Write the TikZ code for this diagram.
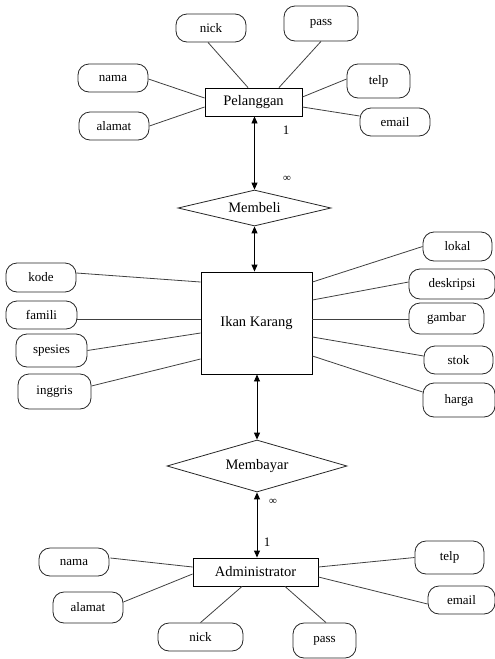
\documentclass[tikz,border=0pt]{standalone}
\usepackage{fontspec}
\setmainfont{Liberation Serif}
\usetikzlibrary{shapes.geometric,arrows.meta,calc}
\tikzset{
  attr/.style={draw=black!85, rounded corners=11pt, inner sep=0pt, line width=0.8pt,
    font=\fontsize{13}{15}\selectfont},
  ent/.style={draw=black, rectangle, inner sep=0pt, line width=0.9pt,
    font=\fontsize{14.5}{17}\selectfont},
  rel/.style={draw=black!85, diamond, inner sep=0pt, line width=0.8pt,
    font=\fontsize{14.5}{17}\selectfont},
  conn/.style={draw=black!75, line width=0.8pt},
  arr/.style={draw=black, line width=0.9pt,
    {Triangle[length=7pt,width=6pt]}-{Triangle[length=7pt,width=6pt]}},
  card/.style={inner sep=0pt, font=\fontsize{13}{15}\selectfont},
}
\begin{document}
\begin{tikzpicture}[x=1pt,y=-1pt]
\useasboundingbox (0,0) rectangle (495,659);
% --- Pelanggan
\node[ent, minimum width=97pt, minimum height=28pt] (pel) at (253.5,102) {Pelanggan};
\node[attr, minimum width=70pt, minimum height=28pt] (pnick) at (211,28) {nick};
\node[attr, minimum width=74pt, minimum height=35pt] (ppass) at (321,23.5) {pass};
\node[attr, minimum width=70pt, minimum height=28pt] (pnama) at (113,78) {nama};
\node[attr, minimum width=70pt, minimum height=28pt] (palamat) at (114,126) {alamat};
\node[attr, minimum width=63pt, minimum height=34pt] (ptelp) at (378.5,81) {telp};
\node[attr, minimum width=70pt, minimum height=28pt] (pemail) at (395,122) {email};
\draw[conn] ($(pnick.south)+(-3,0)$) -- ($(pel.north)+(-5.5,0)$);
\draw[conn] (ppass.south) -- ($(pel.north)+(25.5,0)$);
\draw[conn] ($(pnama.east)+(0,1)$) -- ($(pel.west)+(0,-4)$);
\draw[conn] (palamat.east) -- ($(pel.west)+(0,5)$);
\draw[conn] ($(ptelp.west)+(0,-2)$) -- ($(pel.east)+(0,-5)$);
\draw[conn] ($(pemail.west)+(0,-6)$) -- ($(pel.east)+(0,5)$);
% --- Membeli
\node[rel, aspect=4.25, minimum width=153pt, minimum height=36pt] (mbeli) at (254.5,208) {Membeli};
\draw[arr] (mbeli.north |- pel.south) -- (mbeli.north);
\node[card] (c1a) at (286,130) {1};
\node[card, font=\fontsize{11}{13}\selectfont] (c1b) at (287,179) {∞};
% --- Ikan Karang
\node[ent, minimum width=111pt, minimum height=102pt] (ikan) at (256.5,323) {Ikan Karang};
\draw[arr] (mbeli.south) -- (mbeli.south |- ikan.north);
\node[attr, minimum width=70pt, minimum height=29pt] (kode) at (41,277.5) {kode};
\node[attr, minimum width=71pt, minimum height=28pt] (famili) at (41.5,315) {famili};
\node[attr, minimum width=71pt, minimum height=33pt] (spesies) at (51.5,350.5) {spesies};
\node[attr, minimum width=73pt, minimum height=35pt] (inggris) at (54.5,391.5) {inggris};
\node[attr, minimum width=69pt, minimum height=29pt] (lokal) at (457.5,246.5) {lokal};
\node[attr, minimum width=86pt, minimum height=30pt] (deskripsi) at (452,284) {deskripsi};
\node[attr, minimum width=75pt, minimum height=31pt] (gambar) at (446.5,318.5) {gambar};
\node[attr, minimum width=69pt, minimum height=28pt] (stok) at (458.5,360) {stok};
\node[attr, minimum width=72pt, minimum height=34pt] (harga) at (459,400) {harga};
\draw[conn] ($(kode.east)+(0,-4.5)$) -- ($(ikan.west)+(0,-41)$);
\draw[conn] ($(famili.east)+(0,4)$) -- ($(ikan.west)+(0,-4)$);
\draw[conn] (spesies.east) -- ($(ikan.west)+(0,10)$);
\draw[conn] ($(inggris.east)+(0,-5.5)$) -- ($(ikan.west)+(0,36)$);
\draw[conn] (lokal.west) -- ($(ikan.east)+(0,-41)$);
\draw[conn] ($(deskripsi.west)+(0,-2)$) -- ($(ikan.east)+(0,-23)$);
\draw[conn] ($(gambar.west)+(0,0.5)$) -- ($(ikan.east)+(0,-4)$);
\draw[conn] ($(stok.west)+(0,-4)$) -- ($(ikan.east)+(0,14)$);
\draw[conn] ($(harga.west)+(0,-8)$) -- ($(ikan.east)+(0,33)$);
% --- Membayar
\node[rel, aspect=3.46, minimum width=180pt, minimum height=52pt] (mbayar) at (257,466) {Membayar};
\draw[arr] (ikan.south -| mbayar.north) -- (mbayar.north);
% --- Administrator
\node[ent, minimum width=125pt, minimum height=28pt] (adm) at (255.5,572) {Administrator};
\draw[arr] (mbayar.south) -- (mbayar.south |- adm.north);
\node[card, font=\fontsize{11}{13}\selectfont] (c2a) at (273,502) {∞};
\node[card] (c2b) at (267,542) {1};
\node[attr, minimum width=70pt, minimum height=28pt] (anama) at (74,562) {nama};
\node[attr, minimum width=70pt, minimum height=31pt] (aalamat) at (88,607.5) {alamat};
\node[attr, minimum width=85pt, minimum height=28pt] (anick) at (200.5,637) {nick};
\node[attr, minimum width=63pt, minimum height=35pt] (apass) at (324.5,640.5) {pass};
\node[attr, minimum width=69pt, minimum height=33pt] (atelp) at (449.5,557.5) {telp};
\node[attr, minimum width=67pt, minimum height=28pt] (aemail) at (461.5,600) {email};
\draw[conn] ($(anama.east)+(1,-4)$) -- ($(adm.west)+(0,-5)$);
\draw[conn] ($(aalamat.east)+(0,-5.5)$) -- ($(adm.west)+(0,2)$);
\draw[conn] (anick.north) -- ($(adm.south)+(-13.5,0)$);
\draw[conn] ($(apass.north)+(1.5,0)$) -- ($(adm.south)+(29.5,0)$);
\draw[conn] (atelp.west) -- ($(adm.east)+(0,-5)$);
\draw[conn] ($(aemail.west)+(0,4)$) -- ($(adm.east)+(0,5)$);
\end{tikzpicture}
\end{document}
